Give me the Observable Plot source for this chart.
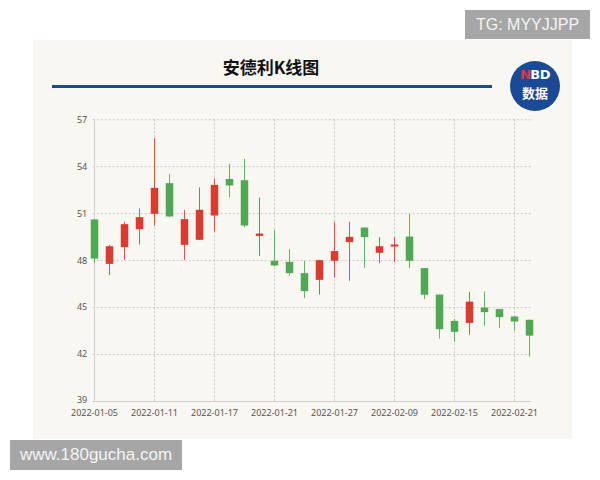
<!DOCTYPE html>
<html>
<head>
<meta charset="utf-8">
<script src="https://cdn.jsdelivr.net/npm/d3@7"></script>
<script src="https://cdn.jsdelivr.net/npm/@observablehq/plot@0.6"></script>
<style>
  html, body { margin:0; padding:0; background:#fff; }
  #page { position:relative; width:600px; height:480px; overflow:hidden; background:#fff; }
  #panel { position:absolute; left:33px; top:40px; width:539px; height:399px; background:#f9f7f2; }
  #title { position:absolute; left:171px; width:200px; top:55px; text-align:center;
    font-family:"Noto Sans CJK SC", sans-serif; font-weight:700; font-size:17px; color:#111; line-height:24px; }
  #bar { position:absolute; left:52px; top:85px; width:440px; height:3px; background:#1b4b8c; }
  #logo { position:absolute; left:510px; top:61px; width:50px; height:50px; border-radius:50%; background:#1a4a95;
    color:#fff; font-family:"DejaVu Sans", sans-serif; font-weight:700; text-align:center; }
  #logo .l1 { position:absolute; left:0; right:0; top:7px; font-size:13px; line-height:14px; letter-spacing:-0.5px; }
  #logo .l1 span { color:#e8333c; }
  #logo .l2 { position:absolute; left:0; right:0; top:25px; font-family:"Noto Sans CJK SC", sans-serif; font-size:13px; line-height:14px; }
  .tag { position:absolute; background:#a6a6a6; color:#f4f4f4; font-family:"Liberation Sans", Arial, sans-serif; text-align:center; }
  #tg { left:465px; top:10px; width:125px; height:29px; line-height:29px; font-size:16px; }
  #www { left:10px; top:440px; width:172px; height:30px; line-height:30px; font-size:17px; }
  #chart { position:absolute; left:0; top:0; }
</style>
</head>
<body>
<div id="page">
  <div id="panel"></div>
  <div id="title">安德利K线图</div>
  <div id="bar"></div>
  <div id="logo"><div class="l1"><span>N</span>BD</div><div class="l2">数据</div></div>
  <div id="chart"></div>
  <div class="tag" id="tg">TG: MYYJJPP</div>
  <div class="tag" id="www">www.180gucha.com</div>
</div>
<script>
const dates = ["2022-01-05","2022-01-06","2022-01-07","2022-01-10","2022-01-11","2022-01-12","2022-01-13","2022-01-14",
  "2022-01-17","2022-01-18","2022-01-19","2022-01-20","2022-01-21","2022-01-24","2022-01-25","2022-01-26",
  "2022-01-27","2022-01-28","2022-02-07","2022-02-08","2022-02-09","2022-02-10","2022-02-11","2022-02-14",
  "2022-02-15","2022-02-16","2022-02-17","2022-02-18","2022-02-21","2022-02-22"];
const open  = [50.60,47.76,48.83,49.98,50.96,52.92,48.98,49.30,50.85,53.19,53.11,49.55,47.96,47.89,47.17,46.74,
  47.96,49.15,50.08,48.47,48.87,49.51,47.49,45.80,44.12,43.99,44.97,44.87,44.40,44.19];
const close = [48.10,48.89,50.30,50.75,52.62,50.79,50.62,51.22,52.81,52.77,50.21,49.70,47.66,47.17,46.02,48.00,
  48.58,49.49,49.47,48.89,49.00,47.96,45.79,43.59,43.42,45.35,44.68,44.36,44.08,43.18];
const high  = [50.65,48.98,50.45,51.30,55.80,53.50,51.21,52.65,53.21,54.15,54.47,52.00,49.94,48.70,47.96,48.02,
  50.47,50.45,50.10,49.47,49.47,50.96,47.50,45.80,44.25,45.96,46.00,44.90,44.45,44.20];
const low   = [47.80,47.04,48.02,49.00,50.19,50.75,48.02,49.28,49.83,52.00,50.10,48.27,47.60,47.00,45.57,45.80,
  46.89,46.68,47.51,47.81,47.89,47.49,45.51,42.99,42.78,43.23,43.82,43.66,43.50,41.84];
const yTicks = [39,42,45,48,51,54,57];
const xTickLabels = ["2022-01-05","2022-01-11","2022-01-17","2022-01-21","2022-01-27","2022-02-09","2022-02-15","2022-02-21"];

const UP = "#dc3a2e", DOWN = "#4fa852";
const data = dates.map((d, i) => ({date: d, open: open[i], close: close[i], high: high[i], low: low[i]}));
const col = d => d.close >= d.open ? UP : DOWN;

const chart = Plot.plot({
  width: 600, height: 480,
  marginLeft: 92.7, marginRight: 69.3, marginTop: 119.3, marginBottom: 79,
  style: {background: "transparent", fontFamily: "'Noto Sans', sans-serif", fontSize: "9px", color: "#555"},
  x: {type: "point", domain: dates, padding: 0},
  y: {domain: [39, 57]},
  marks: [
    Plot.gridY(yTicks, {stroke: "#c8c8c8", strokeOpacity: 1, strokeDasharray: "2,2"}),
    Plot.gridX(xTickLabels, {stroke: "#c8c8c8", strokeOpacity: 1, strokeDasharray: "2,2"}),
    Plot.ruleX([dates[0]], {stroke: "#cfcfcf"}),
    Plot.ruleY([39], {stroke: "#cfcfcf"}),
    Plot.axisY(yTicks.filter(t => t !== 39), {tickSize: 0, tickPadding: 6, label: null}),
    Plot.axisY([39], {tickSize: 0, tickPadding: 6, label: null, dy: -1.5}),
    Plot.axisX({ticks: xTickLabels, tickSize: 0, tickPadding: 8, label: null}),
    Plot.ruleX(data, {x: "date", y1: "low", y2: "high", stroke: col, strokeWidth: 1, strokeOpacity: 0.85}),
    Plot.ruleX(data, {x: "date", y1: "open", y2: "close", stroke: col, strokeWidth: 7.5})
  ]
});
document.getElementById("chart").appendChild(chart);
</script>
</body>
</html>
